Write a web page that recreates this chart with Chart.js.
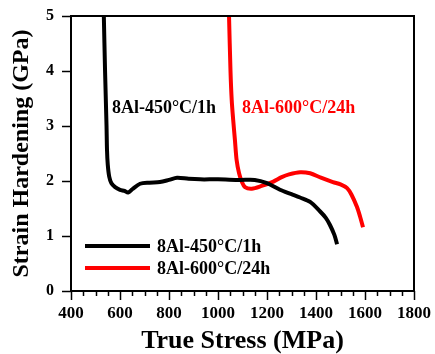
<!DOCTYPE html>
<html>
<head>
<meta charset="utf-8">
<script src="https://cdn.jsdelivr.net/npm/chart.js@4"></script>
<style>
  html, body { margin: 0; padding: 0; background: #fff; }
  #wrap { width: 435px; height: 354px; }
</style>
</head>
<body>
<div id="wrap"><canvas id="myChart" width="435" height="354"></canvas></div>
<script>
const FONT = '"Liberation Serif", "Times New Roman", serif';

// series labels
const labelA = '8Al-450\u00B0C/1h';
const labelB = '8Al-600\u00B0C/24h';

// 8Al-450C/1h  (true stress MPa, strain hardening GPa)
const stressA = [534, 539, 545, 547, 550, 556, 565, 580, 600, 618, 633, 650, 682, 720, 763, 800, 833, 880, 927, 1000, 1090, 1150, 1200, 1253, 1300, 1335, 1376, 1416, 1440, 1457, 1475, 1486];
const hardA   = [5.0, 4.0, 3.0, 2.56, 2.30, 2.08, 1.96, 1.89, 1.84, 1.82, 1.79, 1.85, 1.95, 1.97, 1.98, 2.02, 2.06, 2.04, 2.03, 2.03, 2.02, 2.02, 1.96, 1.84, 1.76, 1.70, 1.62, 1.45, 1.33, 1.20, 1.02, 0.85];

// 8Al-600C/24h
const stressB = [1045, 1051, 1056, 1062, 1069, 1076, 1086, 1097, 1110, 1138, 1178, 1226, 1260, 1290, 1335, 1376, 1420, 1469, 1500, 1527, 1545, 1567, 1580, 1592];
const hardB   = [5.0, 4.0, 3.47, 3.11, 2.75, 2.38, 2.14, 1.99, 1.89, 1.86, 1.91, 1.99, 2.07, 2.12, 2.16, 2.14, 2.06, 1.98, 1.94, 1.87, 1.75, 1.53, 1.35, 1.16];

// axis ranges / ticks
const xMin = 400, xMax = 1800, xMajor = 200, xMinor = 50;
const yMin = 0, yMax = 5, yStep = 1;

// in-plot annotation positions (data coords)
const notes = [
  { text: labelA, x: 567, y: 3.33, color: '#000' },
  { text: labelB, x: 1098, y: 3.33, color: '#ff0000' }
];

const toPoints = (xs, ys) => xs.map((x, i) => ({ x: x, y: ys[i] }));

const framePlugin = {
  id: 'frame',
  afterDraw(chart) {
    const c = chart.ctx;
    const a = chart.chartArea;
    const xs = chart.scales.x, ys = chart.scales.y;
    c.save();
    c.strokeStyle = '#000';
    c.lineWidth = 2;
    c.strokeRect(a.left, a.top, a.right - a.left, a.bottom - a.top);
    // x ticks
    c.lineWidth = 1.5;
    for (let v = xMin; v <= xMax; v += xMinor) {
      const px = Math.round(xs.getPixelForValue(v)) + 0.5;
      const len = v % xMajor === 0 ? 9 : 5;
      c.beginPath();
      c.moveTo(px, a.bottom);
      c.lineTo(px, a.bottom + len);
      c.stroke();
    }
    // y ticks
    for (let v = yMin; v <= yMax; v += yStep) {
      const py = Math.round(ys.getPixelForValue(v)) + 0.5;
      c.beginPath();
      c.moveTo(a.left, py);
      c.lineTo(a.left - 9, py);
      c.stroke();
    }
    // annotations
    c.font = 'bold 18px ' + FONT;
    c.textBaseline = 'middle';
    c.textAlign = 'left';
    notes.forEach(n => {
      c.fillStyle = n.color;
      c.fillText(n.text, xs.getPixelForValue(n.x), ys.getPixelForValue(n.y));
    });
    // legend
    chart.data.datasets.forEach((ds, i) => {
      const ly = a.bottom - 45 + i * 22;
      c.strokeStyle = ds.borderColor;
      c.lineWidth = 4;
      c.beginPath();
      c.moveTo(a.left + 14, ly);
      c.lineTo(a.left + 79, ly);
      c.stroke();
      c.fillStyle = '#000';
      c.fillText(ds.label, a.left + 86, ly + 1);
    });
    c.restore();
  }
};

new Chart(document.getElementById('myChart'), {
  type: 'scatter',
  data: {
    datasets: [
      {
        label: labelA,
        data: toPoints(stressA, hardA),
        showLine: true,
        borderColor: '#000000',
        borderWidth: 4,
        pointRadius: 0,
        tension: 0.3
      },
      {
        label: labelB,
        data: toPoints(stressB, hardB),
        showLine: true,
        borderColor: '#ff0000',
        borderWidth: 4,
        pointRadius: 0,
        tension: 0.3
      }
    ]
  },
  options: {
    responsive: false,
    animation: false,
    layout: { padding: { top: 16, right: 21, left: 0, bottom: 0 } },
    plugins: {
      legend: { display: false },
      tooltip: { enabled: false }
    },
    scales: {
      x: {
        type: 'linear',
        min: xMin,
        max: xMax,
        afterFit(s) { s.height = 63; s.paddingLeft = 0; s.paddingRight = 0; },
        border: { display: false },
        grid: { display: true, drawOnChartArea: false, drawTicks: false, color: 'rgba(0,0,0,0)' },
        ticks: {
          stepSize: xMinor,
          autoSkip: false,
          maxRotation: 0,
          padding: 12,
          color: '#000',
          font: { family: FONT, size: 17, weight: 'bold' },
          callback: v => (v % xMajor === 0 ? v : '')
        },
        title: {
          display: true,
          text: 'True Stress (MPa)',
          color: '#000',
          font: { family: FONT, size: 26, weight: 'bold', lineHeight: 1 },
          padding: { top: 0, bottom: 0 }
        }
      },
      y: {
        min: yMin,
        max: yMax,
        afterFit(s) { s.width = 71; s.paddingTop = 0; s.paddingBottom = 0; },
        border: { display: false },
        grid: { display: true, drawOnChartArea: false, drawTicks: false, color: 'rgba(0,0,0,0)' },
        ticks: {
          stepSize: yStep,
          padding: 17,
          color: '#000',
          font: { family: FONT, size: 16, weight: 'bold' }
        },
        title: {
          display: true,
          text: 'Strain Hardening (GPa)',
          color: '#000',
          font: { family: FONT, size: 24, weight: 'bold', lineHeight: 1 },
          padding: { top: 10, bottom: 0 }
        }
      }
    }
  },
  plugins: [framePlugin]
});
</script>
</body>
</html>
